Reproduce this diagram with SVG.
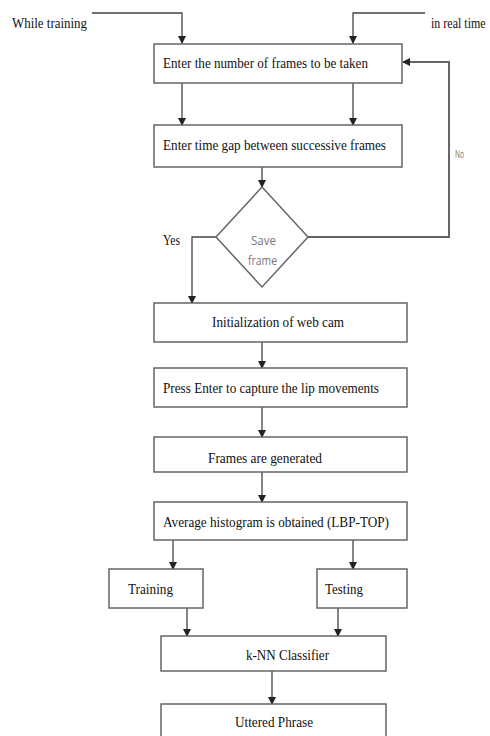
<svg xmlns="http://www.w3.org/2000/svg" width="490" height="736" viewBox="0 0 490 736">
<style>
.box{fill:#fff;stroke:#666;stroke-width:1.5}
.ln{fill:none;stroke:#444;stroke-width:1.3}
.t{font-family:"Liberation Serif",serif;font-size:15.5px;fill:#111}
.s{font-family:"Open Sans","DejaVu Sans",sans-serif;fill:#777}
</style>
<defs>
<marker id="ah" markerWidth="8" markerHeight="8" refX="7" refY="4" orient="auto" markerUnits="userSpaceOnUse">
<path d="M0,0 L8,4 L0,8 Z" fill="#222"/>
</marker>
</defs>
<rect width="490" height="736" fill="#fff"/>
<g id="connectors">
<path class="ln" d="M92,13 H182 V43" marker-end="url(#ah)"/>
<path class="ln" d="M425,13 H353 V43" marker-end="url(#ah)"/>
<path class="ln" d="M182,83 V125" marker-end="url(#ah)"/>
<path class="ln" d="M353,83 V125" marker-end="url(#ah)"/>
<path class="ln" d="M262,167 V187" marker-end="url(#ah)"/>
<path class="ln" d="M308,237 H449 V62 H403" style="stroke:#666;stroke-width:2" marker-end="url(#ah)"/>
<path class="ln" d="M216,237 H192 V303" marker-end="url(#ah)"/>
<path class="ln" d="M262,342 V368" marker-end="url(#ah)"/>
<path class="ln" d="M262,407 V437" marker-end="url(#ah)"/>
<path class="ln" d="M262,472 V502" marker-end="url(#ah)"/>
<path class="ln" d="M173,540 V569" marker-end="url(#ah)"/>
<path class="ln" d="M353,540 V569" marker-end="url(#ah)"/>
<path class="ln" d="M187,608 V636" marker-end="url(#ah)"/>
<path class="ln" d="M338,608 V636" marker-end="url(#ah)"/>
<path class="ln" d="M272,671 V704" marker-end="url(#ah)"/>
<text class="t" x="12" y="28" textLength="75" lengthAdjust="spacingAndGlyphs">While training</text>
<text class="t" transform="translate(431,28) scale(1,1.25)" style="font-size:12px">in real time</text>
<text class="t" x="163" y="245" textLength="17" lengthAdjust="spacingAndGlyphs">Yes</text>
<text class="s" x="455" y="158" font-size="10" textLength="9" lengthAdjust="spacingAndGlyphs">No</text>
</g>
<g id="n1">
<rect class="box" x="154" y="44" width="248" height="39"/>
<text class="t" x="163" y="68" textLength="205" lengthAdjust="spacingAndGlyphs">Enter the number of frames to be taken</text>
</g>
<g id="n2">
<rect class="box" x="154" y="125" width="248" height="42"/>
<text class="t" x="163" y="150" textLength="223" lengthAdjust="spacingAndGlyphs">Enter time gap between successive frames</text>
</g>
<g id="n3">
<path class="box" d="M262,187 L308,237 L262,287 L216,237 Z"/>
<text class="s" x="251" y="245" font-size="13" textLength="25" lengthAdjust="spacingAndGlyphs">Save</text>
<text class="s" x="248" y="265" font-size="13" textLength="29" lengthAdjust="spacingAndGlyphs">frame</text>
</g>
<g id="n4">
<rect class="box" x="154" y="303" width="253" height="39"/>
<text class="t" x="212" y="327" textLength="132" lengthAdjust="spacingAndGlyphs">Initialization of web cam</text>
</g>
<g id="n5">
<rect class="box" x="154" y="368" width="253" height="39"/>
<text class="t" x="163" y="393" textLength="216" lengthAdjust="spacingAndGlyphs">Press Enter to capture the lip movements</text>
</g>
<g id="n6">
<rect class="box" x="154" y="437" width="253" height="35"/>
<text class="t" x="208" y="463" textLength="114" lengthAdjust="spacingAndGlyphs">Frames are generated</text>
</g>
<g id="n7">
<rect class="box" x="154" y="502" width="253" height="38"/>
<text class="t" x="163" y="527" textLength="226" lengthAdjust="spacingAndGlyphs">Average histogram is obtained (LBP-TOP)</text>
</g>
<g id="n8">
<rect class="box" x="109" y="569" width="94" height="39"/>
<text class="t" x="128" y="594" textLength="45" lengthAdjust="spacingAndGlyphs">Training</text>
</g>
<g id="n9">
<rect class="box" x="317" y="569" width="90" height="39"/>
<text class="t" x="325" y="594" textLength="38" lengthAdjust="spacingAndGlyphs">Testing</text>
</g>
<g id="n10">
<rect class="box" x="161" y="636" width="225" height="35"/>
<text class="t" x="246" y="660" textLength="83" lengthAdjust="spacingAndGlyphs">k-NN Classifier</text>
</g>
<g id="n11">
<rect class="box" x="161" y="704" width="225" height="40"/>
<text class="t" x="235" y="727" textLength="78" lengthAdjust="spacingAndGlyphs">Uttered Phrase</text>
</g>
</svg>
